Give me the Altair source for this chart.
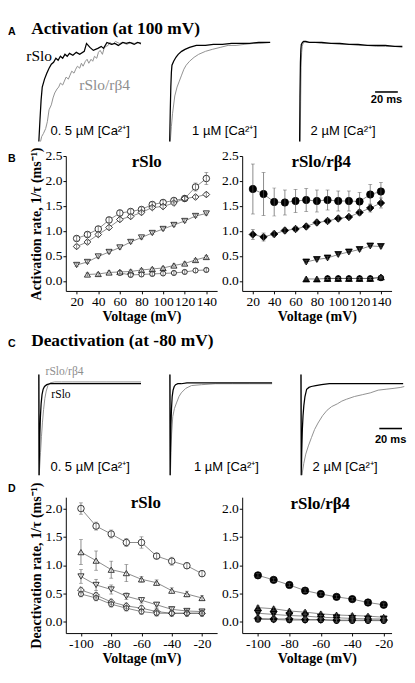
import altair as alt
import pandas as pd

# ---------------- A: activation traces (time, ms ; normalized current) ----------------
A1_RSLO_T = [0, 1, 2, 3, 5, 7, 9, 11, 13, 15, 17, 19, 21, 23, 25, 27, 30, 33, 36, 40,
             42, 45, 48, 52, 55, 57, 60, 64, 67, 70, 74, 77, 80, 84, 87, 90]
A1_RSLO_V = [0, 0.22, 0.42, 0.55, 0.63, 0.69, 0.74, 0.78, 0.80, 0.84, 0.82, 0.86, 0.84, 0.88,
             0.86, 0.89, 0.87, 0.90, 0.88, 0.91, 0.99, 0.95, 0.92, 0.94, 0.96, 0.94, 1.0, 0.98,
             0.99, 0.97, 1.0, 0.99, 1.0, 0.98, 1.0, 0.99]
A1_B4_T = [1.5, 2.5, 4, 6, 7.5, 9, 11, 12.5, 14, 16, 17.5, 19, 21, 22.5, 24, 26, 27.5, 29, 31,
           32.5, 34, 36, 37.5, 39, 41, 42.5, 44, 46, 47.5, 49, 51, 52.5, 54, 56, 57.5, 59, 61,
           62.5, 65, 67.5, 71, 74, 77.5, 81, 84, 87.5, 90]
A1_B4_V = [0, 0.05, 0.08, 0.13, 0.20, 0.32, 0.37, 0.44, 0.49, 0.53, 0.55, 0.59, 0.57, 0.61,
           0.65, 0.63, 0.67, 0.71, 0.69, 0.73, 0.76, 0.74, 0.79, 0.76, 0.81, 0.83, 0.79, 0.83,
           0.81, 0.86, 0.84, 0.90, 0.92, 0.88, 0.94, 0.96, 0.97, 1.0, 0.98, 1.01, 0.99, 1.0,
           0.98, 1.0, 0.99, 1.0, 0.98]
A2_RSLO_T = [1.5, 2, 2.5, 3, 3.5, 5, 7, 9, 12, 15, 19, 25, 33, 40, 48, 56, 64, 72, 80, 90]
A2_RSLO_V = [0, 0.3, 0.55, 0.7, 0.77, 0.81, 0.85, 0.88, 0.91, 0.93, 0.95, 0.97, 0.97, 0.98,
             0.98, 0.99, 0.99, 0.99, 1.0, 1.0]
A2_B4_T = [2, 3, 4, 6, 8, 10, 12, 14, 16, 19, 23, 27, 33, 39, 46, 53, 60, 67, 75, 82, 90]
A2_B4_V = [0, 0.15, 0.28, 0.46, 0.55, 0.61, 0.67, 0.73, 0.77, 0.81, 0.85, 0.88, 0.91, 0.93,
           0.95, 0.97, 0.97, 0.98, 0.99, 0.99, 1.0]
A3_RSLO_T = [0.5, 0.8, 1.2, 1.6, 2, 3, 4, 6, 9, 14, 20, 28, 36, 44, 52, 60, 68, 76, 84, 91]
A3_RSLO_V = [0, 0.45, 0.8, 0.93, 0.98, 1.0, 1.01, 1.01, 1.0, 1.0, 1.0, 0.99, 0.99, 0.98, 0.98,
             0.97, 0.97, 0.97, 0.96, 0.96]
A3_B4_T = [1.0, 1.4, 1.8, 2.3, 2.8, 3.5, 4.5, 6, 9, 14, 20, 28, 36, 44, 52, 60, 68, 76, 84, 91]
A3_B4_V = [0, 0.4, 0.75, 0.9, 0.96, 0.99, 1.0, 1.0, 1.0, 1.0, 0.99, 0.99, 0.98, 0.98, 0.97,
           0.97, 0.96, 0.96, 0.96, 0.95]

# ---------------- C: deactivation traces ----------------
C1_RSLO_T = [0, 0.2, 0.5, 0.9, 1.4, 2, 2.8, 3.8, 5, 7, 10, 15, 25, 40, 55, 70, 90]
C1_RSLO_V = [0.1, -1.0, -0.78, -0.55, -0.36, -0.22, -0.12, -0.06, -0.03, -0.01, 0, 0, 0, 0, 0, 0, 0]
C1_B4_T = [0, 0.3, 0.8, 1.5, 2.3, 3.2, 4.2, 5.3, 6.5, 8, 10, 14, 20, 30, 45, 60, 75, 90]
C1_B4_V = [0.1, -1.0, -0.9, -0.75, -0.58, -0.42, -0.28, -0.16, -0.08, -0.02, 0.01, 0.02, 0.02,
           0.02, 0.02, 0.02, 0.02, 0.02]
C2_RSLO_T = [0, 0.2, 0.5, 0.9, 1.4, 2, 2.8, 3.8, 5, 7, 10, 15, 25, 40, 55, 70, 90]
C2_RSLO_V = [0.1, -1.0, -0.7, -0.45, -0.27, -0.14, -0.07, -0.03, -0.01, 0, 0, 0.01, 0.01, 0.01,
             0.01, 0.01, 0.01]
C2_B4_T = [0, 0.4, 1, 1.5, 2.5, 4, 5.8, 8, 10, 14, 19, 28, 40, 55, 70, 90]
C2_B4_V = [0.1, -1.0, -0.75, -0.55, -0.36, -0.27, -0.21, -0.14, -0.1, -0.05, -0.02, -0.01, 0, 0, 0, 0]
C3_RSLO_T = [0, 0.2, 0.6, 1.2, 1.8, 2.5, 3.5, 5, 7, 9, 13, 18, 25, 35, 50, 65, 80, 90]
C3_RSLO_V = [0.1, -1.0, -0.75, -0.5, -0.35, -0.24, -0.14, -0.06, -0.04, -0.03, -0.02, -0.01, 0,
             0, 0, 0, 0, 0]
C3_B4_T = [0, 0.8, 2.5, 4.2, 6.5, 9.2, 12, 15, 19, 23, 27, 32, 36, 40, 47, 54, 61, 68, 75, 82, 88, 91]
C3_B4_V = [0.1, -1.0, -0.87, -0.77, -0.68, -0.59, -0.5, -0.43, -0.35, -0.29, -0.25, -0.22, -0.19,
           -0.17, -0.14, -0.12, -0.1, -0.07, -0.06, -0.05, -0.04, -0.03]

CA_LABELS = ["0. 5 µM [Ca²⁺]", "1 µM [Ca²⁺]", "2 µM [Ca²⁺]"]

# ---------------- B: activation rates ----------------
ACT_V = [20, 30, 40, 50, 60, 70, 80, 90, 100, 110, 120, 130, 140]
RSLO_ACT_CIRCLE = [0.85, 0.93, 1.04, 1.22, 1.36, 1.39, 1.43, 1.53, 1.57, 1.61, 1.65, 1.88, 2.05]
RSLO_ACT_CIRCLE_ERR = [0.05, 0.05, 0.05, 0.06, 0.06, 0.05, 0.05, 0.05, 0.05, 0.05, 0.05, 0.08, 0.12]
RSLO_ACT_DIAMOND = [0.69, 0.78, 0.93, 1.07, 1.23, 1.29, 1.37, 1.47, 1.49, 1.56, 1.65, 1.68, 1.73]
RSLO_ACT_DIAMOND_ERR = [0.04] * 13
RSLO_ACT_TRIDOWN = [0.32, 0.38, 0.49, 0.58, 0.67, 0.78, 0.87, 0.96, 1.04, 1.12, 1.20, 1.30, 1.35]
RSLO_ACT_TRIDOWN_ERR = [0.03] * 13
RSLO_ACT_TRIUP_V = [30, 40, 50, 60, 70, 80, 90, 100, 110, 120, 130, 140]
RSLO_ACT_TRIUP = [0.13, 0.14, 0.17, 0.18, 0.19, 0.22, 0.24, 0.26, 0.31, 0.35, 0.42, 0.48]
RSLO_ACT_TRIUP_ERR = [0.03] * 12
RSLO_ACT_SMALL_V = [60, 70, 80, 90, 100, 110, 120, 130, 140]
RSLO_ACT_SMALL = [0.16, 0.12, 0.13, 0.14, 0.15, 0.16, 0.18, 0.21, 0.22]
RSLO_ACT_SMALL_ERR = [0.04] * 9

B4_ACT_CIRCLE = [1.84, 1.74, 1.58, 1.57, 1.60, 1.62, 1.60, 1.62, 1.60, 1.60, 1.59, 1.73, 1.79]
B4_ACT_CIRCLE_ERR = [0.50, 0.43, 0.28, 0.25, 0.23, 0.23, 0.22, 0.20, 0.20, 0.20, 0.18, 0.20, 0.18]
B4_ACT_DIAMOND = [0.93, 0.88, 0.94, 1.01, 1.04, 1.09, 1.17, 1.20, 1.25, 1.28, 1.37, 1.46, 1.56]
B4_ACT_DIAMOND_ERR = [0.10, 0.08, 0.06, 0.05, 0.05, 0.05, 0.05, 0.05, 0.05, 0.05, 0.06, 0.08, 0.10]
B4_ACT_TRI_V = [70, 80, 90, 100, 110, 120, 130, 140]
B4_ACT_TRIDOWN = [0.38, 0.43, 0.46, 0.53, 0.58, 0.63, 0.70, 0.69]
B4_ACT_TRIDOWN_ERR = [0.03] * 8
B4_ACT_TRIUP = [0.04, 0.04, 0.05, 0.05, 0.05, 0.05, 0.05, 0.08]
B4_ACT_TRIUP_ERR = [0.02] * 8
B4_ACT_SMALL_V = [90, 100, 110, 120, 130, 140]
B4_ACT_SMALL = [0.05, 0.05, 0.05, 0.05, 0.05, 0.06]
B4_ACT_SMALL_ERR = [0.02] * 6

# ---------------- D: deactivation rates ----------------
DEACT_V = [-100, -90, -80, -70, -60, -50, -40, -30, -20]
RSLO_DE_CIRCLE = [2.00, 1.69, 1.55, 1.40, 1.40, 1.16, 1.07, 0.99, 0.85]
RSLO_DE_CIRCLE_ERR = [0.10, 0.07, 0.07, 0.07, 0.10, 0.05, 0.07, 0.05, 0.05]
RSLO_DE_TRIUP = [1.23, 1.08, 0.92, 0.86, 0.75, 0.69, 0.55, 0.49, 0.42]
RSLO_DE_TRIUP_ERR = [0.22, 0.17, 0.15, 0.15, 0.05, 0.05, 0.05, 0.05, 0.04]
RSLO_DE_TRIDOWN = [0.80, 0.65, 0.57, 0.45, 0.38, 0.30, 0.22, 0.19, 0.18]
RSLO_DE_TRIDOWN_ERR = [0.12, 0.10, 0.08, 0.06, 0.05, 0.04, 0.03, 0.03, 0.03]
RSLO_DE_DIAMOND = [0.56, 0.47, 0.35, 0.28, 0.24, 0.18, 0.15, 0.15, 0.15]
RSLO_DE_DIAMOND_ERR = [0.05] * 9
RSLO_DE_SMALL = [0.49, 0.42, 0.31, 0.24, 0.18, 0.15, 0.15, 0.15, 0.15]
RSLO_DE_SMALL_ERR = [0.05] * 9

B4_DE_CIRCLE = [0.82, 0.74, 0.65, 0.55, 0.49, 0.44, 0.40, 0.34, 0.30]
B4_DE_TRIUP = [0.25, 0.23, 0.19, 0.17, 0.14, 0.12, 0.11, 0.10, 0.08]
B4_DE_TRIDOWN = [0.15, 0.13, 0.11, 0.10, 0.08, 0.07, 0.06, 0.05, 0.05]
B4_DE_DIAMOND = [0.06, 0.05, 0.05, 0.04, 0.04, 0.03, 0.03, 0.03, 0.03]
B4_DE_SMALL = [0.04, 0.04, 0.03, 0.03, 0.03, 0.02, 0.02, 0.02, 0.02]
B4_DE_ERR = [0.03] * 9

SERIF = "Liberation Serif"
SANS = "Liberation Sans"
GRAY = "#8e8e8e"
LINEC = "#555555"

SHAPES = {"circle": ("circle", 46), "diamond": ("diamond", 48), "tridown": ("triangle-down", 40),
          "triup": ("triangle-up", 40), "small": ("circle", 28)}


def one(**kw):
    return pd.DataFrame({k: [v] for k, v in kw.items()})


def text(s, x, y, size, font=SERIF, weight="normal", color="black", align="left",
         baseline="alphabetic"):
    return alt.Chart(one(s=s)).mark_text(
        align=align, baseline=baseline, font=font, fontSize=size, fontWeight=weight, color=color
    ).encode(x=alt.value(x), y=alt.value(y), text="s:N")


def anchor(x, y1, y2):
    return alt.Chart(one(a=0)).mark_rule(color="white", opacity=0).encode(
        x=alt.value(x), y=alt.value(y1), y2=alt.value(y2))


def trace_panel(rt, rv, gt, gv, ydom, extras, w=106, h=110, xrange=None, bar=None):
    if xrange is None:
        xs = alt.Scale(domain=[0, 90], nice=False, zero=False)
    else:
        xs = alt.Scale(domain=[0, 90], nice=False, zero=False, range=xrange)
    ys = alt.Scale(domain=ydom, nice=False, zero=False)
    gray = alt.Chart(pd.DataFrame({"t": gt, "v": gv})).mark_line(color=GRAY, strokeWidth=1).encode(
        x=alt.X("t:Q", scale=xs, axis=None), y=alt.Y("v:Q", scale=ys, axis=None))
    black = alt.Chart(pd.DataFrame({"t": rt, "v": rv})).mark_line(color="black", strokeWidth=1.3).encode(
        x=alt.X("t:Q", scale=xs, axis=None), y=alt.Y("v:Q", scale=ys, axis=None))
    layers = [gray, black]
    if bar is not None:
        t0, t1, vb, vt = bar
        layers.append(alt.Chart(one(t0=t0, t1=t1, v=vb)).mark_rule(color="black", strokeWidth=1.6).encode(
            x=alt.X("t0:Q", scale=xs, axis=None), x2="t1:Q", y=alt.Y("v:Q", scale=ys, axis=None)))
        layers.append(alt.Chart(one(t=(t0 + t1) / 2, v=vt, s="20 ms")).mark_text(
            align="center", baseline="alphabetic", font=SANS, fontSize=11.5, fontWeight="bold",
            color="black").encode(x=alt.X("t:Q", scale=xs, axis=None),
                                  y=alt.Y("v:Q", scale=ys, axis=None), text="s:N"))
    return alt.layer(*layers, *extras).properties(width=w, height=h)


def rate_panel(series, filled, xdom, xticks, ydom, yticks, w, h, ytitle, extras):
    frames = [pd.DataFrame({"V": v, "rate": r, "err": e, "series": name})
              for name, v, r, e in series]
    df = pd.concat(frames, ignore_index=True)
    base = alt.Chart(df).transform_calculate(lo="datum.rate - datum.err",
                                             hi="datum.rate + datum.err")
    xs = alt.Scale(domain=xdom, nice=False, zero=False)
    ys = alt.Scale(domain=ydom, nice=False, zero=False)
    xaxis = alt.Axis(values=xticks, labelExpr="'' + datum.value", title="Voltage (mV)")
    if ytitle:
        yaxis = alt.Axis(values=yticks, format=".1f", title=ytitle)
    else:
        yaxis = alt.Axis(values=yticks, format=".1f", title=None)
    X = alt.X("V:Q", scale=xs, axis=xaxis)

    def Y(f):
        return alt.Y(f, scale=ys, axis=yaxis)

    lines = base.mark_line(color=LINEC, strokeWidth=0.7).encode(x=X, y=Y("rate:Q"), detail="series:N")
    pts = []
    grow = 1.25 if filled else 1.0
    for name, _, _, _ in series:
        shp, size = SHAPES[name]
        pts.append(base.transform_filter(alt.datum.series == name).mark_point(
            shape=shp, size=size * grow, filled=True, fill="black" if filled else "white",
            stroke="black", strokeWidth=0.8, opacity=1).encode(x=X, y=Y("rate:Q")))
    errs = base.mark_rule(color=LINEC, strokeWidth=0.7).encode(x=X, y=Y("lo:Q"), y2="hi:Q")
    cap_lo = base.mark_tick(orient="horizontal", size=4, thickness=0.7, color=LINEC).encode(
        x=X, y=Y("lo:Q"))
    cap_hi = base.mark_tick(orient="horizontal", size=4, thickness=0.7, color=LINEC).encode(
        x=X, y=Y("hi:Q"))
    return alt.layer(lines, *pts, errs, cap_lo, cap_hi, *extras).properties(width=w, height=h)


# all rows share the same origin: the left plot edge of rows B and D
header_a = alt.layer(
    anchor(0, 0, 18),
    text("A", -60, 6, 11, SANS, "bold", baseline="top"),
    text("Activation (at 100 mV)", -36, 0, 18, SERIF, "bold", baseline="top"),
).properties(width=10, height=18)

YA = [-0.02, 1.05]
a1 = trace_panel(A1_RSLO_T, A1_RSLO_V, A1_B4_T, A1_B4_V, YA, [
    anchor(0, 0, 112),
    text("rSlo", -41, 24, 16),
    text("rSlo/rβ4", 14, 54, 16, color=GRAY),
    text(CA_LABELS[0], -16, 101, 13.5, SANS),
], w=78, xrange=[-28, 78])
a2 = trace_panel(A2_RSLO_T, A2_RSLO_V, A2_B4_T, A2_B4_V, YA, [
    anchor(0, 0, 112), text(CA_LABELS[1], 25, 101, 13.5, SANS)])
a3 = trace_panel(A3_RSLO_T, A3_RSLO_V, A3_B4_T, A3_B4_V, YA, [
    anchor(0, 0, 112), text(CA_LABELS[2], 12, 101, 13.5, SANS)], bar=(67, 87, 0.5, 0.39))
row_a = alt.hconcat(a1, a2, a3, spacing=24)

b_left = rate_panel([
    ("circle", ACT_V, RSLO_ACT_CIRCLE, RSLO_ACT_CIRCLE_ERR),
    ("diamond", ACT_V, RSLO_ACT_DIAMOND, RSLO_ACT_DIAMOND_ERR),
    ("tridown", ACT_V, RSLO_ACT_TRIDOWN, RSLO_ACT_TRIDOWN_ERR),
    ("triup", RSLO_ACT_TRIUP_V, RSLO_ACT_TRIUP, RSLO_ACT_TRIUP_ERR),
    ("small", RSLO_ACT_SMALL_V, RSLO_ACT_SMALL, RSLO_ACT_SMALL_ERR),
], False, [10, 150], [20, 40, 60, 80, 100, 120, 140], [-0.2, 2.5], [0, 0.5, 1, 1.5, 2, 2.5],
    157, 140, "Activation rate, 1/τ (ms⁻¹)", [
    anchor(-60, -11, 173),
    text("B", -60, -3, 11, SANS, "bold", baseline="top"),
    text("rSlo", 84, 11, 17.5, SERIF, "bold", align="center"),
])
b_right = rate_panel([
    ("circle", ACT_V, B4_ACT_CIRCLE, B4_ACT_CIRCLE_ERR),
    ("diamond", ACT_V, B4_ACT_DIAMOND, B4_ACT_DIAMOND_ERR),
    ("tridown", B4_ACT_TRI_V, B4_ACT_TRIDOWN, B4_ACT_TRIDOWN_ERR),
    ("triup", B4_ACT_TRI_V, B4_ACT_TRIUP, B4_ACT_TRIUP_ERR),
    ("small", B4_ACT_SMALL_V, B4_ACT_SMALL, B4_ACT_SMALL_ERR),
], True, [10, 150], [20, 40, 60, 80, 100, 120, 140], [-0.2, 2.5], [0, 0.5, 1, 1.5, 2, 2.5],
    155, 140, None, [
    anchor(-23, -11, 173),
    text("rSlo/rβ4", 82, 11, 17.5, SERIF, "bold", align="center"),
])
row_b = alt.hconcat(b_left, b_right, spacing=3)

header_c = alt.layer(
    anchor(0, 0, 38),
    text("C", -60, 15, 11, SANS, "bold", baseline="top"),
    text("Deactivation (at -80 mV)", -36, 9, 18, SERIF, "bold", baseline="top"),
).properties(width=10, height=38)

YC = [-1.02, 0.14]
c1 = trace_panel(C1_RSLO_T, C1_RSLO_V, C1_B4_T, C1_B4_V, YC, [
    anchor(0, -11, 113),
    text("rSlo/rβ4", -21, 4, 12, color=GRAY),
    text("rSlo", -15, 28, 12),
    text(CA_LABELS[0], -16, 104, 13.5, SANS),
], w=78, xrange=[-28, 78])
c2 = trace_panel(C2_RSLO_T, C2_RSLO_V, C2_B4_T, C2_B4_V, YC, [
    anchor(0, -11, 113), text(CA_LABELS[1], 25, 104, 13.5, SANS)])
c3 = trace_panel(C3_RSLO_T, C3_RSLO_V, C3_B4_T, C3_B4_V, YC, [
    anchor(0, -11, 113), text(CA_LABELS[2], 12, 104, 13.5, SANS)], bar=(69, 89, -0.49, -0.65))
row_c = alt.hconcat(c1, c2, c3, spacing=24)

d_left = rate_panel([
    ("circle", DEACT_V, RSLO_DE_CIRCLE, RSLO_DE_CIRCLE_ERR),
    ("triup", DEACT_V, RSLO_DE_TRIUP, RSLO_DE_TRIUP_ERR),
    ("tridown", DEACT_V, RSLO_DE_TRIDOWN, RSLO_DE_TRIDOWN_ERR),
    ("diamond", DEACT_V, RSLO_DE_DIAMOND, RSLO_DE_DIAMOND_ERR),
    ("small", DEACT_V, RSLO_DE_SMALL, RSLO_DE_SMALL_ERR),
], False, [-110, -10], [-100, -80, -60, -40, -20], [-0.2, 2.2], [0, 0.5, 1, 1.5, 2],
    157, 141, "Deactivation rate, 1/τ (ms⁻¹)", [
    anchor(-60, -18, 173),
    text("D", -60, -14, 11, SANS, "bold", baseline="top"),
    text("rSlo", 83, 11, 17.5, SERIF, "bold", align="center"),
])
d_right = rate_panel([
    ("circle", DEACT_V, B4_DE_CIRCLE, B4_DE_ERR),
    ("triup", DEACT_V, B4_DE_TRIUP, B4_DE_ERR),
    ("tridown", DEACT_V, B4_DE_TRIDOWN, B4_DE_ERR),
    ("diamond", DEACT_V, B4_DE_DIAMOND, B4_DE_ERR),
    ("small", DEACT_V, B4_DE_SMALL, B4_DE_ERR),
], True, [-110, -15], [-100, -80, -60, -40, -20], [-0.2, 2.2], [0, 0.5, 1, 1.5, 2],
    155, 141, None, [
    anchor(-23, -18, 173),
    text("rSlo/rβ4", 81, 12, 17.5, SERIF, "bold", align="center"),
])
row_d = alt.hconcat(d_left, d_right, spacing=3)

chart = alt.vconcat(header_a, row_a, row_b, header_c, row_c, row_d, spacing=0).properties(
    padding=0, background="white"
).configure_view(strokeWidth=0).configure_axis(
    domainColor="black", domainWidth=1, tickColor="black", tickWidth=1, tickSize=3,
    labelFont=SERIF, labelFontSize=14, labelColor="black", labelPadding=1,
    titleFont=SERIF, titleFontSize=14.5, titleFontWeight="bold", titleColor="black",
    titlePadding=2, grid=False, labelFlush=False, labelOverlap=False,
)

chart.save("out.html", embed_options={"renderer": "svg", "actions": False})
